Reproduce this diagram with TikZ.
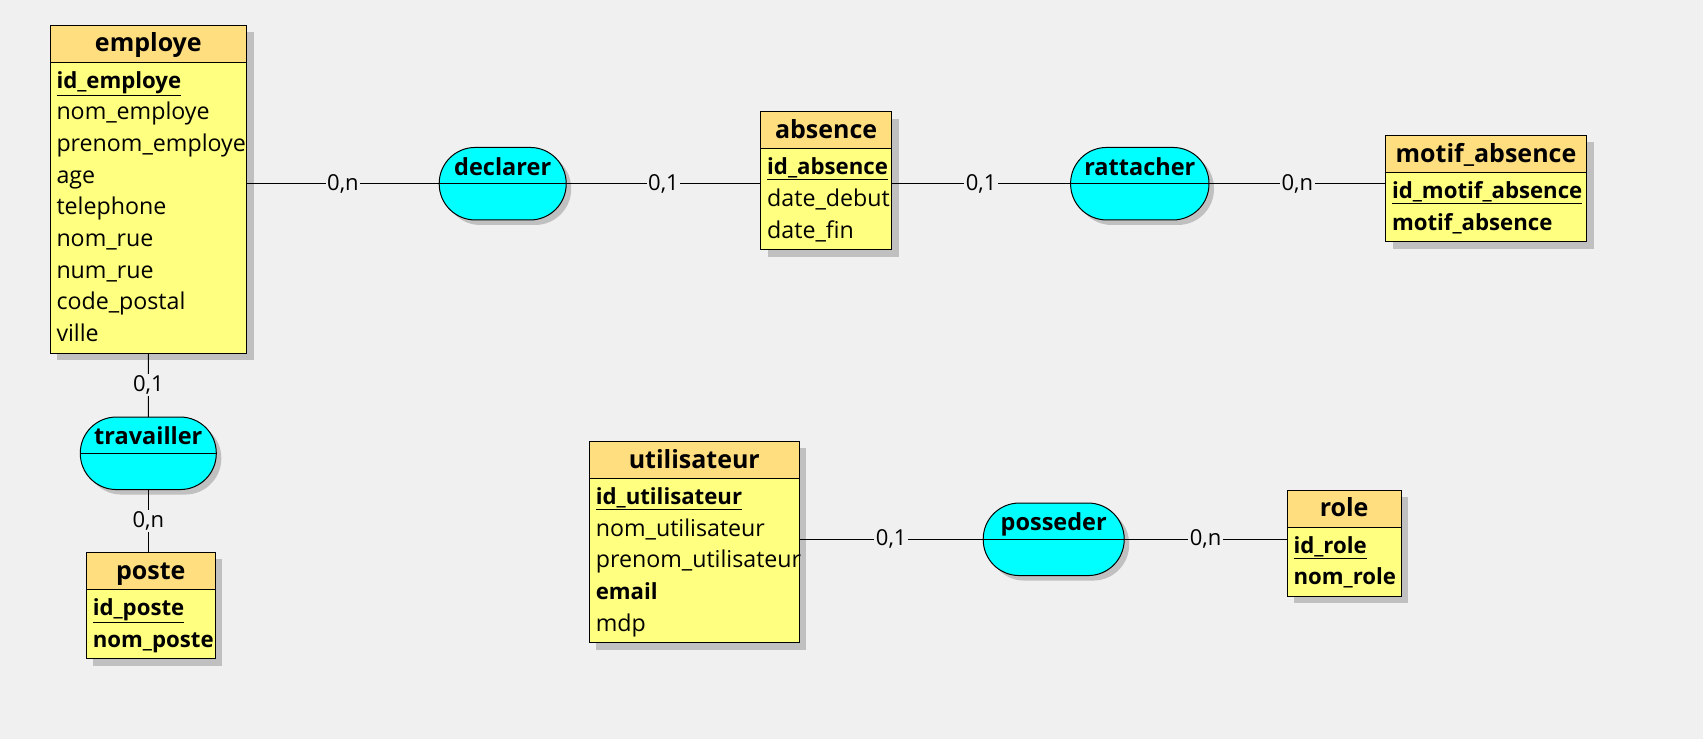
\documentclass[tikz,border=0pt]{standalone}
\usepackage{fontspec}
\setmainfont{Open Sans}
\usetikzlibrary{shadows}

\definecolor{fond}{RGB}{240,240,240}
\definecolor{orangeclair}{RGB}{255,222,128}
\definecolor{jauneclair}{RGB}{255,255,128}
\definecolor{cyanassoc}{RGB}{0,255,255}
\definecolor{ombre}{RGB}{192,192,192}

\newcommand{\gras}[1]{{\fontsize{22.2}{31.7}\selectfont\textbf{#1}}}
\newcommand{\idcle}[1]{\underline{\gras{#1}}}

\tikzset{
	titre/.style={draw, line width=1pt, fill=orangeclair, anchor=north west,
		inner sep=0pt, outer sep=0pt, minimum height=37pt,
		font=\fontsize{25}{30}\selectfont\bfseries, text height=18pt, text depth=1.5pt,
		drop shadow={shadow xshift=7pt, shadow yshift=-7pt, fill=ombre, opacity=1}},
	attributs/.style={draw, line width=1pt, fill=jauneclair, anchor=north west,
		inner xsep=6.5pt, inner ysep=0pt, outer sep=0pt, align=left,
		font=\fontsize{23.2}{31.7}\selectfont, text height=26pt, text depth={(#1-1)*31.7+11.7},
		drop shadow={shadow xshift=7pt, shadow yshift=-7pt, fill=ombre, opacity=1}},
	assoc/.style={draw, line width=1pt, fill=cyanassoc, rounded corners=36pt,
		inner sep=0pt, outer sep=0pt, minimum height=72.5pt,
		font=\fontsize{23.5}{28}\selectfont\bfseries, text height=17pt, text depth=34pt,
		drop shadow={shadow xshift=5pt, shadow yshift=-5pt, fill=ombre, opacity=1}},
	card/.style={fill=fond, inner sep=1.5pt, font=\fontsize{22}{26}\selectfont},
	lien/.style={line width=1pt}
}

\begin{document}
\begin{tikzpicture}[x=1pt, y=-1pt]
	\fill[fond] (0,0) rectangle (1703,739);

	% entites
	\node[titre, minimum width=196.7pt] (employe) at (50,25) {employe};
	\node[attributs=9, text width=183.7pt] (employe-c) at (employe.south west)
		{\idcle{id\_employe}\\nom\_employe\\prenom\_employe\\age\\telephone\\nom\_rue\\num\_rue\\code\_postal\\ville};

	\node[titre, minimum width=130.8pt] (absence) at (760.7,111.7) {absence};
	\node[attributs=3, text width=117.8pt] (absence-c) at (absence.south west)
		{\idcle{id\_absence}\\date\_debut\\date\_fin};

	\node[titre, minimum width=201pt] (motif) at (1385.5,135.3) {motif\_absence};
	\node[attributs=2, text width=188pt] (motif-c) at (motif.south west)
		{\idcle{id\_motif\_absence}\\\gras{motif\_absence}};

	\node[titre, minimum width=129pt] (poste) at (86.3,552.3) {poste};
	\node[attributs=2, text width=116pt] (poste-c) at (poste.south west)
		{\idcle{id\_poste}\\\gras{nom\_poste}};

	\node[titre, minimum width=210pt] (utilisateur) at (589.3,441.3) {utilisateur};
	\node[attributs=5, text width=197pt] (utilisateur-c) at (utilisateur.south west)
		{\idcle{id\_utilisateur}\\nom\_utilisateur\\prenom\_utilisateur\\\gras{email}\\mdp};

	\node[titre, minimum width=114.3pt] (role) at (1287,490) {role};
	\node[attributs=2, text width=101.3pt] (role-c) at (role.south west)
		{\idcle{id\_role}\\\gras{nom\_role}};

	% associations
	\node[assoc, minimum width=127pt] (declarer) at (502.7,183.7) {declarer};
	\node[assoc, minimum width=138.4pt] (rattacher) at (1139.8,183.7) {rattacher};
	\node[assoc, minimum width=136pt] (travailler) at (148.3,453.3) {travailler};
	\node[assoc, minimum width=141pt] (posseder) at (1053.7,539.3) {posseder};
	\foreach \a in {declarer, rattacher, travailler, posseder}
		\draw[lien] (\a.west) -- (\a.east);

	% liens
	\draw[lien] (employe-c.east |- declarer.west) -- node[card] {0,n} (declarer.west);
	\draw[lien] (declarer.east) -- node[card] {0,1} (declarer.east -| absence-c.west);
	\draw[lien] (absence-c.east |- rattacher.west) -- node[card] {0,1} (rattacher.west);
	\draw[lien] (rattacher.east) -- node[card] {0,n} (rattacher.east -| motif-c.west);
	\draw[lien] (employe-c.south) -- node[card] {0,1} (travailler.north);
	\draw[lien] (travailler.south) -- node[card] {0,n} (travailler.south |- poste.north);
	\draw[lien] (utilisateur-c.east |- posseder.west) -- node[card] {0,1} (posseder.west);
	\draw[lien] (posseder.east) -- node[card] {0,n} (posseder.east -| role-c.west);
\end{tikzpicture}
\end{document}
